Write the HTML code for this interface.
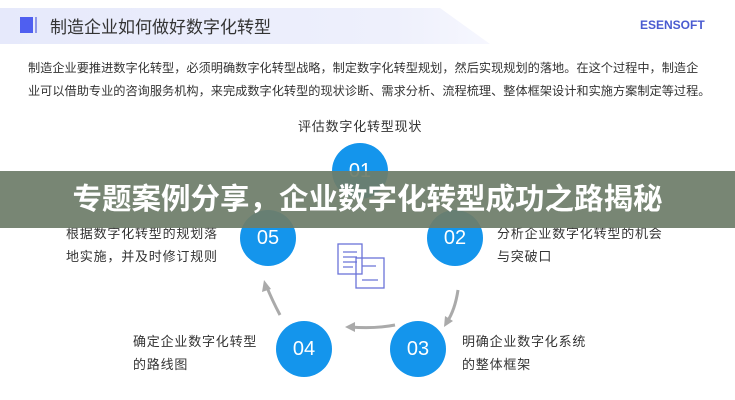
<!DOCTYPE html>
<html><head><meta charset="utf-8"><style>
body{margin:0;width:735px;height:400px;background:#fff;position:relative;overflow:hidden;font-family:"Liberation Sans","Noto Sans CJK SC",sans-serif;color:#333}
.a{position:absolute;white-space:nowrap}
.c{position:absolute;width:56px;height:56px;border-radius:50%;background:#1495ec;color:#fff;font-size:20px;text-align:center;line-height:56px}
.t{font-size:13px;letter-spacing:0.8px;line-height:23px;color:#333}
</style></head><body>
<div class="a" style="left:0;top:8px;width:490px;height:36px;background:linear-gradient(90deg,#e6e9fb,#eef0fc 80%,#f6f7fe);clip-path:polygon(0 0,440px 0,490px 36px,0 36px)"></div>
<div class="a" style="left:20px;top:17px;width:13px;height:16px;background:#4f5ff0"></div>
<div class="a" style="left:35px;top:17px;width:2px;height:16px;background:#8e97e8"></div>
<div class="a" style="left:50px;top:13px;font-size:17px;color:#333">制造企业如何做好数字化转型</div>
<div class="a" style="left:640px;top:18px;font-size:12px;font-weight:bold;color:#4a5bd0">ESENSOFT</div>
<div class="a" style="left:28px;top:57px;font-size:12.2px;line-height:23px;color:#333">制造企业要推进数字化转型，必须明确数字化转型战略，制定数字化转型规划，然后实现规划的落地。在这个过程中，制造企<br>业可以借助专业的咨询服务机构，来完成数字化转型的现状诊断、需求分析、流程梳理、整体框架设计和实施方案制定等过程。</div>
<div class="a t" style="left:298px;top:115px">评估数字化转型现状</div>
<svg class="a" style="left:0;top:0" width="735" height="400">
<g stroke="#aaa" stroke-width="3" fill="none">
<path d="M395 325 Q375 329 350 327"/><path d="M458 290 Q455 310 447 322"/><path d="M280 315 Q272 300 266 285"/>
</g>
<g fill="#aaa"><path d="M345 327 l10 -5 l0 10z"/><path d="M444 327 l1 -11 l8 5z"/><path d="M264 280 l-2 12 l9 -3z"/></g>
<g stroke="#6b74d8" stroke-width="1.3" fill="none">
<rect x="338" y="244" width="24" height="30"/><rect x="356" y="258" width="28" height="30"/>
<path d="M343 252h14M343 257h14M343 262h14M343 267h10M362 266h14M362 280h16"/>
</g>
</svg>
<div class="c" style="left:332px;top:143px">01</div>
<div class="c" style="left:240px;top:210px">05</div>
<div class="c" style="left:427px;top:210px">02</div>
<div class="c" style="left:276px;top:321px">04</div>
<div class="c" style="left:390px;top:321px">03</div>
<div class="a t" style="left:66px;top:222px">根据数字化转型的规划落<br>地实施，并及时修订规则</div>
<div class="a t" style="left:497px;top:222px">分析企业数字化转型的机会<br>与突破口</div>
<div class="a t" style="left:133px;top:330px">确定企业数字化转型<br>的路线图</div>
<div class="a t" style="left:462px;top:330px">明确企业数字化系统<br>的整体框架</div>
<div class="a" style="left:0;top:171px;width:735px;height:57px;background:rgba(110,125,105,0.93)"></div>
<div class="a" style="left:0;top:171px;width:735px;height:57px;line-height:57px;text-align:center;font-size:29.5px;font-weight:bold;color:#fff">专题案例分享，企业数字化转型成功之路揭秘</div>
</body></html>
